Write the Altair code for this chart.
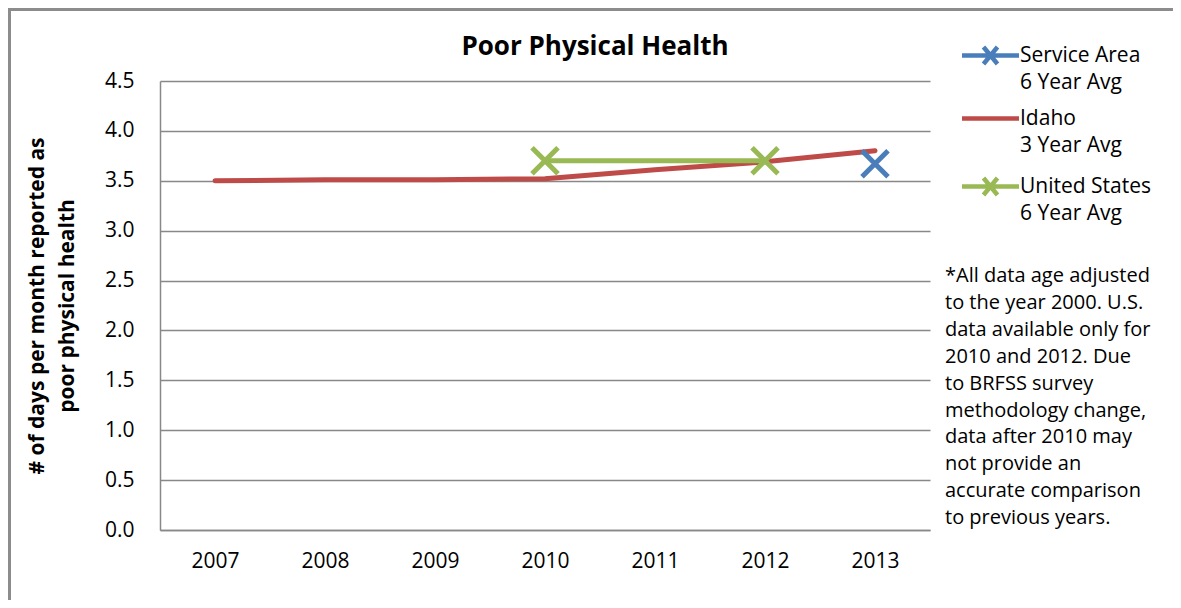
import altair as alt
import pandas as pd

# ---- data ----
years = ["2007", "2008", "2009", "2010", "2011", "2012", "2013"]
idaho_values = [3.50, 3.51, 3.51, 3.52, 3.61, 3.69, 3.80]
us_years = ["2010", "2012"]
us_values = [3.70, 3.70]
sa_years = ["2013"]
sa_values = [3.67]

series_names = ["Service Area", "Idaho", "United States"]
series_labels = [["Service Area", "6 Year Avg"], ["Idaho", "3 Year Avg"], ["United States", "6 Year Avg"]]
series_colors = ["#4A7EBB", "#BE4B48", "#98B954"]

y_ticks = [0.0, 0.5, 1.0, 1.5, 2.0, 2.5, 3.0, 3.5, 4.0, 4.5]
title_text = "Poor Physical Health"
y_title = ["# of days per month reported as", "poor physical health"]
note_lines = [
    "*All data age adjusted",
    "to the year 2000.  U.S.",
    "data available only for",
    "2010 and 2012. Due",
    "to BRFSS survey",
    "methodology change,",
    "data after 2010 may",
    "not provide an",
    "accurate comparison",
    "to previous years.",
]

FONT = "Open Sans"
GRID = "#888888"

rows = []
for y, v in zip(years, idaho_values):
    rows.append({"year": y, "value": v, "series": "Idaho"})
for y, v in zip(us_years, us_values):
    rows.append({"year": y, "value": v, "series": "United States"})
for y, v in zip(sa_years, sa_values):
    rows.append({"year": y, "value": v, "series": "Service Area"})
df = pd.DataFrame(rows)

# legend symbol paths (line with optional X marker); symbol size 400 -> unit = 10px
line_path = "M-2.85,0L2.85,0"
linex_path = "M-2.85,0L2.85,0M-0.7,-0.85L0.7,0.85M-0.7,0.85L0.7,-0.85"
legend_shapes = [linex_path, line_path, linex_path]

label_expr = ""
for name, lab in zip(series_names, series_labels):
    label_expr += f"datum.label === '{name}' ? ['{lab[0]}', '{lab[1]}'] : "
label_expr += "datum.label"

legend = alt.Legend(
    title=None, orient="none", legendX=818, legendY=-38, padding=0,
    symbolSize=400, symbolStrokeWidth=4.5, symbolFillColor="transparent",
    labelOffset=17, rowPadding=13,
    labelFont=FONT, labelFontSize=21, labelColor="black", labelExpr=label_expr,
)

x_enc = alt.X(
    "year:O",
    sort=years,
    scale=alt.Scale(domain=years, padding=0.5),
    axis=alt.Axis(title=None, labelAngle=0, tickSize=0, labelPadding=20, domainColor=GRID,
                  domainWidth=1.5, labelFont=FONT, labelFontSize=21, labelColor="black", grid=False),
)
y_enc = alt.Y(
    "value:Q",
    scale=alt.Scale(domain=[0, 4.5], nice=False, zero=True),
    axis=alt.Axis(values=y_ticks, format=".1f", tickSize=0, labelPadding=26, grid=True,
                  gridColor=GRID, gridWidth=1.5, domainColor=GRID, domainWidth=1.5,
                  labelFont=FONT, labelFontSize=21, labelColor="black",
                  title=y_title, titleFont=FONT, titleFontSize=21, titleFontWeight="bold",
                  titleColor="black", titleLineHeight=30, titlePadding=27),
)
color_enc = alt.Color("series:N", scale=alt.Scale(domain=series_names, range=series_colors), legend=legend)
shape_enc = alt.Shape("series:N", scale=alt.Scale(domain=series_names, range=legend_shapes), legend=legend)

base = alt.Chart(df)
lines = base.transform_filter("datum.series !== 'Service Area'").mark_line(
    strokeWidth=5, strokeCap="round"
).encode(x=x_enc, y=y_enc, color=color_enc)

points = base.transform_filter("datum.series !== 'Idaho'").mark_point(
    shape="M-1,-1L1,1M-1,1L1,-1", size=676, filled=False, strokeWidth=5, opacity=1
).encode(x=x_enc, y=y_enc, color=color_enc)

# legend-only layer (no rows drawn): carries the line+marker legend symbols
legend_layer = base.transform_filter("false").mark_point(
    filled=False, strokeWidth=4.5, opacity=1
).encode(x=x_enc, y=y_enc, color=color_enc, shape=shape_enc)

note = alt.Chart(pd.DataFrame({"note": ["\n".join(note_lines)]})).mark_text(
    align="left", baseline="middle", lineBreak="\n", lineHeight=26.9,
    font=FONT, fontSize=20, color="black"
).encode(x=alt.value(785), y=alt.value(195), text="note:N")

title = alt.Chart(pd.DataFrame({"t": [title_text]})).mark_text(
    align="center", baseline="alphabetic", font=FONT, fontSize=26, fontWeight="bold", color="black"
).encode(x=alt.value(435), y=alt.value(-26), text="t:N")

frame = alt.Chart(pd.DataFrame({"a": [0]})).mark_rect(
    fill=None, stroke="#8C8C8C", strokeWidth=3
).encode(x=alt.value(-150.5), y=alt.value(-71.5), x2=alt.value(1100), y2=alt.value(600))

chart = alt.layer(frame, lines, points, legend_layer, note, title).properties(
    width=770, height=449,
    autosize=alt.AutoSizeParams(type="none"),
    padding={"left": 152, "top": 73, "right": 243, "bottom": 70},
).configure(
    style={"guide-label": {"lineHeight": 27}},
    view=alt.ViewConfig(stroke=None),
)

chart.save("out.html", embed_options={"renderer": "svg", "actions": False})
